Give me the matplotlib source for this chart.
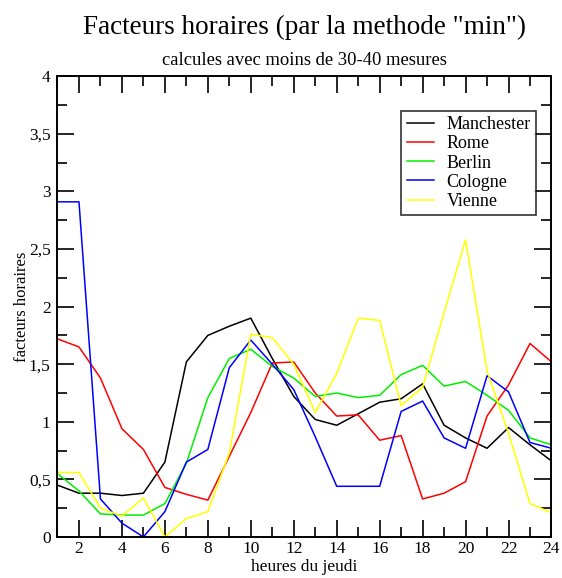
import matplotlib
matplotlib.use("Agg")
import matplotlib.pyplot as plt
from matplotlib.ticker import MultipleLocator, FuncFormatter

plt.rcParams['font.family'] = ['Liberation Serif', 'DejaVu Serif']

# heures du jeudi
hours = list(range(1, 25))

manchester = [0.45, 0.38, 0.38, 0.36, 0.38, 0.65, 1.52, 1.75, 1.83, 1.90, 1.55, 1.22,
              1.02, 0.97, 1.07, 1.17, 1.20, 1.33, 0.97, 0.86, 0.77, 0.95, 0.80, 0.66]
rome = [1.72, 1.65, 1.38, 0.94, 0.76, 0.43, 0.37, 0.32, 0.70, 1.08, 1.51, 1.52,
        1.25, 1.05, 1.06, 0.84, 0.88, 0.33, 0.38, 0.48, 1.05, 1.32, 1.68, 1.52]
berlin = [0.55, 0.40, 0.20, 0.19, 0.19, 0.29, 0.64, 1.21, 1.55, 1.63, 1.48, 1.38,
          1.22, 1.25, 1.21, 1.23, 1.41, 1.49, 1.31, 1.35, 1.23, 1.10, 0.86, 0.80]
cologne = [2.91, 2.91, 0.33, 0.12, 0.00, 0.22, 0.65, 0.76, 1.47, 1.71, 1.50, 1.28,
           0.87, 0.44, 0.44, 0.44, 1.09, 1.18, 0.86, 0.77, 1.40, 1.26, 0.82, 0.77]
vienne = [0.56, 0.56, 0.25, 0.18, 0.34, 0.00, 0.16, 0.22, 0.73, 1.76, 1.73, 1.50,
          1.08, 1.42, 1.90, 1.88, 1.14, 1.30, 1.95, 2.58, 1.44, 0.90, 0.29, 0.21]

series = [("Manchester", manchester, "black"),
          ("Rome", rome, "red"),
          ("Berlin", berlin, "#00ee00"),
          ("Cologne", cologne, "blue"),
          ("Vienne", vienne, "yellow")]

fig = plt.figure(figsize=(5.62, 5.78), dpi=100)
ax = fig.add_axes([0.1023, 0.071, 0.879, 0.797])

for name, vals, col in series:
    ax.plot(hours, vals, color=col, lw=1.1, label=name)

ax.set_xlim(1, 24)
ax.set_ylim(0, 4)
ax.xaxis.set_major_locator(MultipleLocator(2))
ax.xaxis.set_minor_locator(MultipleLocator(1))
ax.yaxis.set_major_locator(MultipleLocator(0.5))
ax.yaxis.set_minor_locator(MultipleLocator(0.25))
ax.yaxis.set_major_formatter(FuncFormatter(lambda v, p: ('%g' % v).replace('.', ',')))
ax.tick_params(which='both', direction='in', top=True, right=True, width=1.2,
               labelsize=12.5, pad=5)
ax.tick_params(axis='x', which='both', pad=3)
ax.tick_params(which='major', length=12)
ax.tick_params(which='minor', length=7)
for s in ax.spines.values():
    s.set_linewidth(1.4)

ax.set_xlabel("heures du jeudi", fontsize=12.5, labelpad=1)
ax.set_ylabel("facteurs horaires", fontsize=12, labelpad=-1)

# titres centres sur les axes
xc = (ax.get_position().x0 + ax.get_position().x1) / 2
fig.text(xc, 0.952, 'Facteurs horaires (par la methode "min")', ha='center', va='center',
         fontsize=19.5)
fig.text(xc, 0.896, 'calcules avec moins de 30-40 mesures', ha='center', va='center',
         fontsize=13.4)

leg = ax.legend(loc='upper left', bbox_to_anchor=(0.696, 0.925), fontsize=13,
                frameon=True, fancybox=False, handlelength=1.5, labelspacing=0.12,
                borderpad=0.3, handletextpad=0.7, borderaxespad=0)
leg.get_frame().set_edgecolor('black')
leg.get_frame().set_linewidth(1.2)

fig.savefig("out.png", dpi=100)
